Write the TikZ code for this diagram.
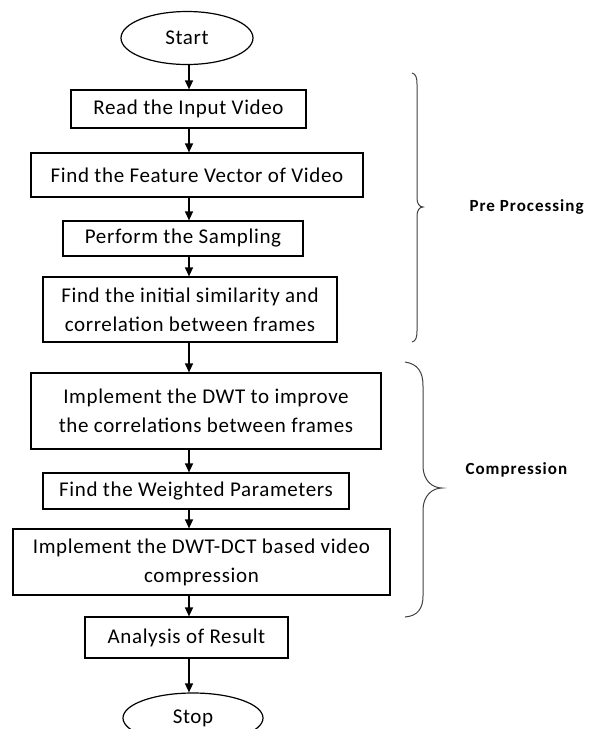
\documentclass[tikz,border=0pt]{standalone}
\usepackage{fontspec}
\setmainfont{Carlito}[LetterSpace=3]
\newfontfamily\grpfont{Carlito}[LetterSpace=6]
\usepackage{tikz}
\usetikzlibrary{arrows.meta,shapes.geometric}

\begin{document}
\begin{tikzpicture}[x=1pt,y=-1pt,>={Triangle[length=9pt,width=8pt]},
  font=\fontsize{21}{29}\selectfont,
  box/.style={draw,line width=1.2pt,align=center,inner sep=0pt},
  term/.style={draw,ellipse,line width=1.2pt,inner sep=0pt},
  flow/.style={->,line width=1.3pt},
  curly/.style={draw=black!75,line width=1pt},
  grp/.style={anchor=west,font=\grpfont\fontsize{17}{20}\selectfont\bfseries}]
\useasboundingbox (0,0) rectangle (589,729);
\clip (0,0) rectangle (589,729);
\coordinate (spine) at (189,0);
\node[term,minimum width=132,minimum height=53] (start) at (187,38) {Start};
\node[box,minimum width=235,minimum height=38] (read) at (188.5,109) {Read the Input Video};
\node[box,minimum width=332,minimum height=44] (feat) at (197,175) {Find the Feature Vector of Video};
\node[box,minimum width=240,minimum height=35] (samp) at (183,238.5) {Perform the Sampling};
\node[box,minimum width=294,minimum height=65] (simil) at (190,309.5) {Find the initial similarity and\\correlation between frames};
\node[box,minimum width=350,minimum height=76] (dwt) at (206,411) {Implement the DWT to improve\\the correlations between frames};
\node[box,minimum width=306,minimum height=36] (wpar) at (196,491) {Find the Weighted Parameters};
\node[box,minimum width=377,minimum height=66] (dct) at (201.5,562) {Implement the DWT-DCT based video\\compression};
\node[box,minimum width=203,minimum height=41] (res) at (186.5,637.5) {Analysis of Result};
\node[term,minimum width=140,minimum height=50] (stop) at (193,718) {Stop};
\draw[flow] (start.south -| spine) -- (read.north -| spine);
\draw[flow] (read.south -| spine) -- (feat.north -| spine);
\draw[flow] (feat.south -| spine) -- (samp.north -| spine);
\draw[flow] (samp.south -| spine) -- (simil.north -| spine);
\draw[flow] (simil.south -| spine) -- (dwt.north -| spine);
\draw[flow] (dwt.south -| spine) -- (wpar.north -| spine);
\draw[flow] (wpar.south -| spine) -- (dct.north -| spine);
\draw[flow] (dct.south -| spine) -- (res.north -| spine);
\draw[flow] (res.south -| spine) -- (stop.north -| spine);
\draw[curly] (412,73) .. controls (416,74) and (417,78) .. (417,84) -- (417,198)
  .. controls (417,203) and (419,207) .. (423,207) .. controls (419,207) and (417,211) .. (417,216)
  -- (417,331) .. controls (417,337) and (416,341) .. (412,342);
\draw[curly] (405,362) .. controls (418,364) and (423,372) .. (423,386) -- (423,466)
  .. controls (423,480) and (432,488) .. (442,488) .. controls (432,488) and (423,496) .. (423,510)
  -- (423,596) .. controls (423,608) and (418,616) .. (405,617);
\node[grp] (prelbl) at (466,207) {Pre Processing};
\node[grp] (complbl) at (462,470) {Compression};
\end{tikzpicture}
\end{document}
